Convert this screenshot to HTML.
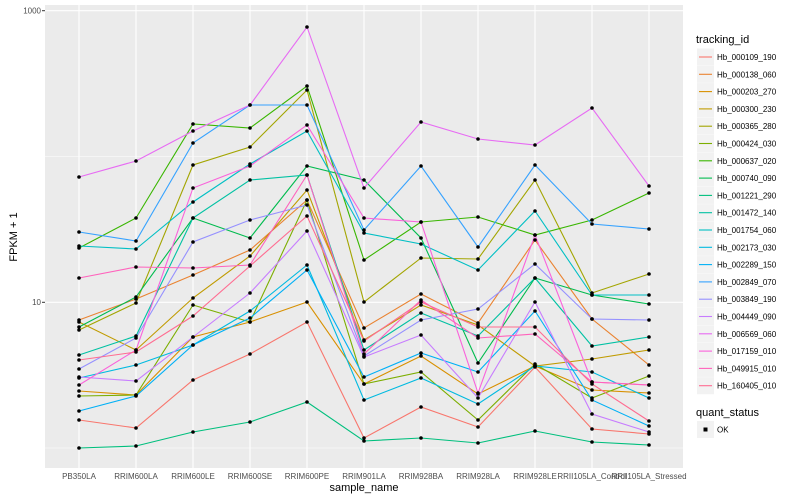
<!DOCTYPE html>
<html><head><meta charset="utf-8"><style>html,body{margin:0;padding:0;background:#fff}svg{display:block;font-family:"Liberation Sans",sans-serif}</style></head>
<body>
<svg id="c" width="800" height="500" viewBox="0 0 800 500" xmlns="http://www.w3.org/2000/svg">
<rect x="0" y="0" width="800" height="500" fill="#fff"/>
<rect x="45" y="5" width="638" height="463" fill="#ebebeb"/>
<g stroke="#fff" stroke-width="0.6">
<line x1="45" x2="683" y1="156.5" y2="156.5"/><line x1="45" x2="683" y1="448" y2="448"/>
</g>
<g stroke="#fff" stroke-width="1.1">
<line x1="45" x2="683" y1="10.7" y2="10.7"/><line x1="45" x2="683" y1="302.3" y2="302.3"/>
<line x1="79" x2="79" y1="5" y2="468"/><line x1="136" x2="136" y1="5" y2="468"/><line x1="193" x2="193" y1="5" y2="468"/><line x1="250" x2="250" y1="5" y2="468"/><line x1="307" x2="307" y1="5" y2="468"/><line x1="364" x2="364" y1="5" y2="468"/><line x1="421" x2="421" y1="5" y2="468"/><line x1="478" x2="478" y1="5" y2="468"/><line x1="535" x2="535" y1="5" y2="468"/><line x1="592" x2="592" y1="5" y2="468"/><line x1="649" x2="649" y1="5" y2="468"/>
</g>
<g id="series" fill="none" stroke-width="1.1"></g>
<g id="pts" fill="#000"></g>
<g stroke="#333" stroke-width="1">
<line x1="42" x2="45" y1="10.7" y2="10.7"/><line x1="42" x2="45" y1="302.3" y2="302.3"/>
</g>
<g font-size="8" fill="#4d4d4d" text-anchor="end">
<text x="41" y="13.5">1000</text><text x="41" y="305">10</text>
</g>
<g font-size="8" fill="#4d4d4d" text-anchor="middle">
<text x="79" y="479">PB350LA</text><text x="136" y="479">RRIM600LA</text><text x="193" y="479">RRIM600LE</text><text x="250" y="479">RRIM600SE</text><text x="307" y="479">RRIM600PE</text><text x="364" y="479">RRIM901LA</text><text x="421" y="479">RRIM928BA</text><text x="478" y="479">RRIM928LA</text><text x="535" y="479">RRIM928LE</text><text x="592" y="479">RRII105LA_Control</text><text x="649" y="479">RRII105LA_Stressed</text>
</g>
<text x="364" y="491" font-size="11" text-anchor="middle" fill="#000">sample_name</text>
<text x="0" y="0" font-size="11" text-anchor="middle" fill="#000" transform="translate(17,237) rotate(-90)">FPKM + 1</text>
<text x="696" y="43" font-size="11" fill="#000">tracking_id</text>
<g id="leg"></g>
<text x="696" y="416" font-size="11" fill="#000">quant_status</text>
<rect x="697" y="421" width="17" height="17" fill="#f2f2f2"/>
<rect x="703.5" y="427.5" width="4" height="4" fill="#000"/>
<text x="717" y="432.5" font-size="8" fill="#000">OK</text>
</svg>
<script>
var X=[79,136,193,250,307,364,421,478,535,592,649];
var S=[
["Hb_000109_190","#F8766D",[420,428,380,354,322,438,407,427,367,429,434]],
["Hb_000138_060","#EA8331",[320,299,275,250,200,328,294,323,240,319,365]],
["Hb_000203_270","#D89000",[391,395,337,322,302,384,356,394,366,390,393]],
["Hb_000300_230","#C09B00",[322,350,298,256,190,340,305,325,366,359,350]],
["Hb_000365_280","#A3A500",[330,303,165,147,90,302,258,259,180,293,274]],
["Hb_000424_030","#7CAE00",[396,395,305,322,200,384,372,420,364,398,376]],
["Hb_000637_020","#39B600",[248,218,124,128,86,260,222,217,235,220,193]],
["Hb_000740_090","#00BB4E",[327,297,218,238,166,180,238,363,278,295,304]],
["Hb_001221_290","#00BF7D",[448,446,432,422,402,441,438,443,431,442,445]],
["Hb_001472_140","#00C1A3",[355,336,218,180,175,350,313,336,278,346,337]],
["Hb_001754_060","#00BFC4",[246,249,202,164,131,233,244,270,211,295,295]],
["Hb_002173_030","#00BAE0",[378,365,345,311,265,400,378,404,366,372,398]],
["Hb_002289_150","#00B0F6",[411,396,345,318,270,377,353,372,311,400,426]],
["Hb_002849_070","#35A2FF",[232,241,143,105,105,230,166,247,165,224,229]],
["Hb_003849_190","#9590FF",[369,338,242,220,205,356,320,309,264,319,320]],
["Hb_004449_090","#C77CFF",[377,381,337,293,231,357,335,398,302,414,432]],
["Hb_006569_060","#E76BF3",[177,161,131,105,27,188,122,139,145,108,186]],
["Hb_017159_010","#FA62DB",[385,350,188,166,125,218,222,393,235,382,385]],
["Hb_049915_010","#FF62BC",[278,267,268,265,175,354,300,338,334,382,385]],
["Hb_160405_010","#FF6C91",[360,352,316,266,216,341,302,327,327,384,421]]];
var ns="http://www.w3.org/2000/svg",g=document.getElementById("series"),p=document.getElementById("pts"),l=document.getElementById("leg");
S.forEach(function(s,i){var pl=document.createElementNS(ns,"polyline");pl.setAttribute("points",X.map(function(x,j){return x+","+s[2][j]}).join(" "));pl.setAttribute("stroke",s[1]);g.appendChild(pl);
X.forEach(function(x,j){var c=document.createElementNS(ns,"circle");c.setAttribute("cx",x);c.setAttribute("cy",s[2][j]);c.setAttribute("r",1.8);p.appendChild(c);});
var y=48.5+i*17.3;var r=document.createElementNS(ns,"rect");r.setAttribute("x",697);r.setAttribute("y",y);r.setAttribute("width",17);r.setAttribute("height",17);r.setAttribute("fill","#f2f2f2");l.appendChild(r);
var ln=document.createElementNS(ns,"line");ln.setAttribute("x1",699);ln.setAttribute("x2",712);ln.setAttribute("y1",y+8.5);ln.setAttribute("y2",y+8.5);ln.setAttribute("stroke",s[1]);ln.setAttribute("stroke-width",1.1);l.appendChild(ln);
var t=document.createElementNS(ns,"text");t.setAttribute("x",717);t.setAttribute("y",y+11.5);t.setAttribute("font-size",8);t.textContent=s[0];l.appendChild(t);});
</script>
</body></html>
